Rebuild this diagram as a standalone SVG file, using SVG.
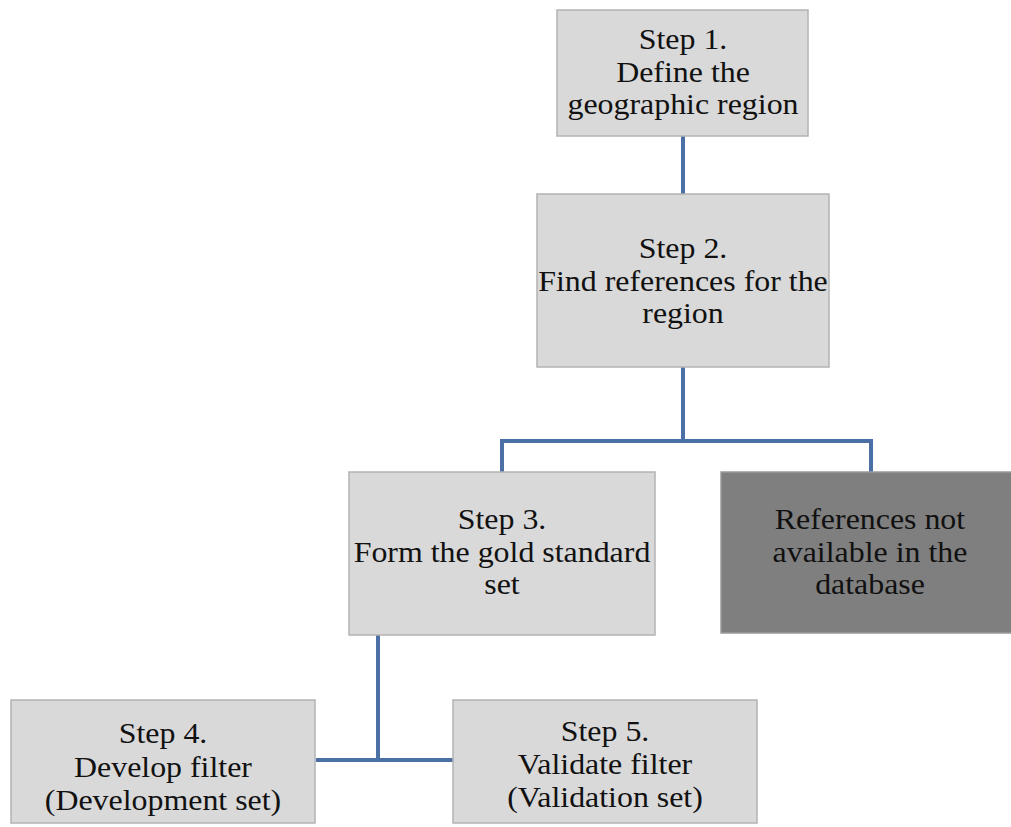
<svg xmlns="http://www.w3.org/2000/svg" width="1011" height="827" viewBox="0 0 1011 827">
<style>
.box{fill:#d9d9d9;stroke:#b3b3b3;stroke-width:1.5}
.dark{fill:#7f7f7f;stroke:#9a9a9a;stroke-width:1.5}
.t{font-family:"Liberation Serif","Times New Roman",serif;font-size:29px;fill:#111;text-anchor:middle}
.c{fill:none;stroke:#4a70a6;stroke-width:4}
</style>
<rect width="1011" height="827" fill="#fff"/>
<g id="connectors">
<path class="c" d="M683 136V194"/>
<path class="c" d="M683 367V441M502 472V441H871V472"/>
<path class="c" d="M378 635V760M316 760H453"/>
</g>
<g id="step1">
<rect class="box" x="557" y="10" width="251" height="126"/>
<g transform="translate(683 0) scale(1.1 1)">
<text class="t" x="0" y="49">Step 1.</text>
<text class="t" x="0" y="82">Define the</text>
<text class="t" x="0" y="114">geographic region</text>
</g>
</g>
<g id="step2">
<rect class="box" x="537" y="194" width="292" height="173"/>
<g transform="translate(683 0) scale(1.1 1)">
<text class="t" x="0" y="258">Step 2.</text>
<text class="t" x="0" y="291">Find references for the</text>
<text class="t" x="0" y="323">region</text>
</g>
</g>
<g id="step3">
<rect class="box" x="349" y="472" width="306" height="163"/>
<g transform="translate(502 0) scale(1.1 1)">
<text class="t" x="0" y="529">Step 3.</text>
<text class="t" x="0" y="562">Form the gold standard</text>
<text class="t" x="0" y="594">set</text>
</g>
</g>
<g id="notavail">
<rect class="dark" x="721" y="472" width="295" height="161"/>
<g transform="translate(870 0) scale(1.1 1)">
<text class="t" x="0" y="529">References not</text>
<text class="t" x="0" y="562">available in the</text>
<text class="t" x="0" y="594">database</text>
</g>
</g>
<g id="step4">
<rect class="box" x="11" y="700" width="304" height="123"/>
<g transform="translate(163 0) scale(1.1 1)">
<text class="t" x="0" y="743">Step 4.</text>
<text class="t" x="0" y="777">Develop filter</text>
<text class="t" x="0" y="810">(Development set)</text>
</g>
</g>
<g id="step5">
<rect class="box" x="453" y="700" width="304" height="123"/>
<g transform="translate(605 0) scale(1.1 1)">
<text class="t" x="0" y="741">Step 5.</text>
<text class="t" x="0" y="774">Validate filter</text>
<text class="t" x="0" y="807">(Validation set)</text>
</g>
</g>
</svg>
